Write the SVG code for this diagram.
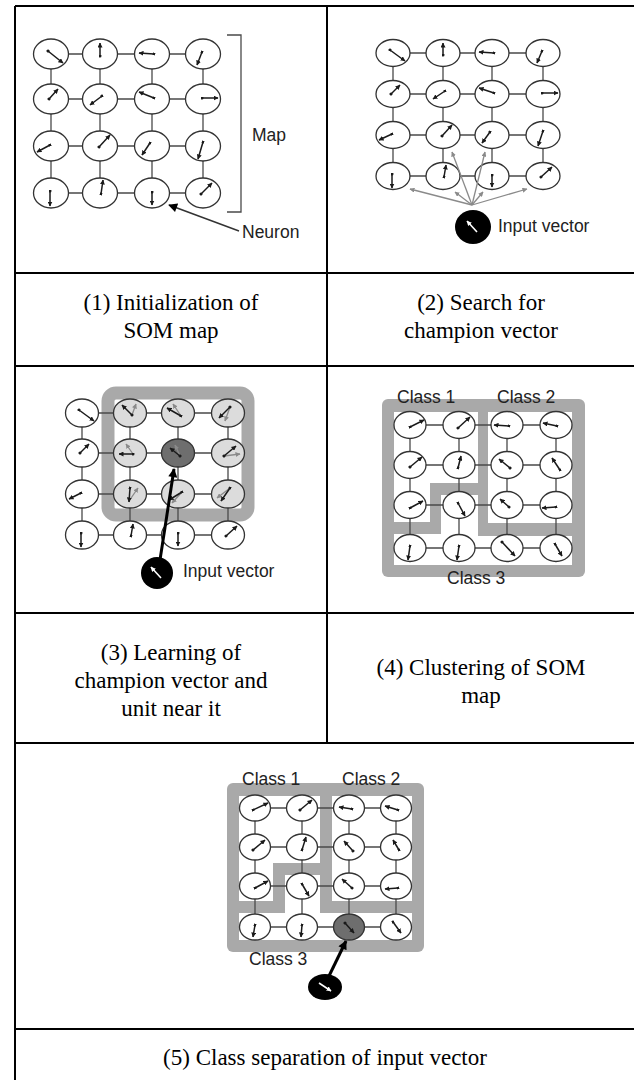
<svg xmlns="http://www.w3.org/2000/svg" width="634" height="1080" viewBox="0 0 634 1080">
<style>
.tb{stroke:#000;stroke-width:2;fill:none}
.cap{font-family:"Liberation Serif","Times New Roman",serif;font-size:23px;fill:#000;text-anchor:middle}
.lbl{font-family:"Liberation Sans",Arial,sans-serif;font-size:17.5px;fill:#222}
.gl{stroke:#4a4a4a;stroke-width:1.3;fill:none}
.n{fill:#fff;stroke:#333;stroke-width:1.3}
.lt{fill:#dcdcdc;stroke:#333;stroke-width:1.3}
.ch{fill:#6e6e6e;stroke:#333;stroke-width:1.3}
.v{stroke:#1a1a1a;stroke-width:1.5;fill:none;marker-end:url(#ah);marker-start:url(#dt)}
.gv{stroke:#8a8a8a;stroke-width:1.3;fill:none;marker-end:url(#gh)}
.wv{stroke:#fff;stroke-width:1.6;fill:none;marker-end:url(#wh)}
.band{fill:#a9a9a9}
.wh{fill:#fff}
.inp{fill:#000}
</style>
<defs>
<marker id="ah" viewBox="0 0 10 10" refX="9" refY="5" markerWidth="5" markerHeight="5" markerUnits="userSpaceOnUse" orient="auto"><path d="M0,0L10,5L0,10z" fill="#1a1a1a"/></marker>
<marker id="dt" viewBox="0 0 10 10" refX="5" refY="5" markerWidth="3" markerHeight="3" markerUnits="userSpaceOnUse" orient="auto"><circle cx="5" cy="5" r="5" fill="#1a1a1a"/></marker>
<marker id="gh" viewBox="0 0 10 10" refX="9" refY="5" markerWidth="5" markerHeight="5" markerUnits="userSpaceOnUse" orient="auto"><path d="M0,0L10,5L0,10z" fill="#8a8a8a"/></marker>
<marker id="wh" viewBox="0 0 10 10" refX="9" refY="5" markerWidth="5" markerHeight="5" markerUnits="userSpaceOnUse" orient="auto"><path d="M0,0L10,5L0,10z" fill="#fff"/></marker>
<marker id="bh" viewBox="0 0 10 10" refX="9" refY="5" markerWidth="10" markerHeight="9" markerUnits="userSpaceOnUse" orient="auto"><path d="M0,0L10,5L0,10z" fill="#000"/></marker>
</defs>
<rect width="634" height="1080" fill="#fff"/>

<g id="table">
<path class="tb" d="M15,6H634M15,6V1080M327,6V743M15,273H634M15,366H634M15,613H634M15,743H634M15,1029H634"/>
</g>

<g id="captions">
<text class="cap" x="171" y="310">(1) Initialization of</text>
<text class="cap" x="171" y="338">SOM map</text>
<text class="cap" x="481" y="310">(2) Search for</text>
<text class="cap" x="481" y="338">champion vector</text>
<text class="cap" x="171" y="660">(3) Learning of</text>
<text class="cap" x="171" y="688">champion vector and</text>
<text class="cap" x="171" y="716">unit near it</text>
<text class="cap" x="481" y="675">(4) Clustering of SOM</text>
<text class="cap" x="481" y="703">map</text>
<text class="cap" x="325" y="1065">(5) Class separation of input vector</text>
</g>

<!-- Panel 1 -->
<g id="p1-connectors">
<path class="gl" d="M51,54H203M51,99H203M51,146H203M51,193H203M51,54V193M100,54V193M152,54V193M203,54V193"/>
<path class="gl" stroke-width="1.5" d="M227,35H241V212H227"/>
<path stroke="#333" stroke-width="1.5" fill="none" marker-end="url(#bh)" d="M239,231L169,205"/>
</g>
<g id="p1-nodes">
<g id="p1n11" transform="translate(51,54)"><ellipse class="n" rx="17.5" ry="15"/><path class="v" d="M-3,-3L12,9"/></g>
<g id="p1n12" transform="translate(100,54)"><ellipse class="n" rx="17.5" ry="15"/><path class="v" d="M0,2L0,-11"/></g>
<g id="p1n13" transform="translate(152,54)"><ellipse class="n" rx="17.5" ry="15"/><path class="v" d="M2,0L-13,-1"/></g>
<g id="p1n14" transform="translate(203,54)"><ellipse class="n" rx="17.5" ry="15"/><path class="v" d="M-1,-2L-6,11"/></g>
<g id="p1n21" transform="translate(51,99)"><ellipse class="n" rx="17.5" ry="15"/><path class="v" d="M-2,0L7,-10"/></g>
<g id="p1n22" transform="translate(100,99)"><ellipse class="n" rx="17.5" ry="15"/><path class="v" d="M2,-3L-10,6"/></g>
<g id="p1n23" transform="translate(152,99)"><ellipse class="n" rx="17.5" ry="15"/><path class="v" d="M2,-1L-13,-7"/></g>
<g id="p1n24" transform="translate(203,99)"><ellipse class="n" rx="17.5" ry="15"/><path class="v" d="M-1,-1L15,-1"/></g>
<g id="p1n31" transform="translate(51,146)"><ellipse class="n" rx="17.5" ry="15"/><path class="v" d="M-1,-1L-14,6"/></g>
<g id="p1n32" transform="translate(100,146)"><ellipse class="n" rx="17.5" ry="15"/><path class="v" d="M-1,1L10,-11"/></g>
<g id="p1n33" transform="translate(152,146)"><ellipse class="n" rx="17.5" ry="15"/><path class="v" d="M-2,-3L-10,9"/></g>
<g id="p1n34" transform="translate(203,146)"><ellipse class="n" rx="17.5" ry="15"/><path class="v" d="M0,-4L-5,13"/></g>
<g id="p1n41" transform="translate(51,193)"><ellipse class="n" rx="17.5" ry="15"/><path class="v" d="M-1,-2L-1,13"/></g>
<g id="p1n42" transform="translate(100,193)"><ellipse class="n" rx="17.5" ry="15"/><path class="v" d="M1,1L3,-13"/></g>
<g id="p1n43" transform="translate(152,193)"><ellipse class="n" rx="17.5" ry="15"/><path class="v" d="M0,-1L0,12"/></g>
<g id="p1n44" transform="translate(203,193)"><ellipse class="n" rx="17.5" ry="15"/><path class="v" d="M-2,1L9,-10"/></g>
<text id="p1-map" class="lbl" x="252" y="141" font-size="20">Map</text>
<text id="p1-neuron" class="lbl" x="242" y="238" font-size="20">Neuron</text>
</g>

<!-- Panel 2 -->
<g id="p2-connectors">
<path class="gl" d="M393,53H543M393,94H543M393,135H543M393,176H543M393,53V176M443,53V176M492,53V176M543,53V176"/>
</g>
<g id="p2-nodes">
<g id="p2n11" transform="translate(393,53)"><ellipse class="n" rx="17" ry="13.5"/><path class="v" d="M-3,-3L12,8"/></g>
<g id="p2n12" transform="translate(443,53)"><ellipse class="n" rx="17" ry="13.5"/><path class="v" d="M0,2L0,-10"/></g>
<g id="p2n13" transform="translate(492,53)"><ellipse class="n" rx="17" ry="13.5"/><path class="v" d="M2,0L-13,-1"/></g>
<g id="p2n14" transform="translate(543,53)"><ellipse class="n" rx="17" ry="13.5"/><path class="v" d="M-1,-2L-6,10"/></g>
<g id="p2n21" transform="translate(393,94)"><ellipse class="n" rx="17" ry="13.5"/><path class="v" d="M-2,0L7,-9"/></g>
<g id="p2n22" transform="translate(443,94)"><ellipse class="n" rx="17" ry="13.5"/><path class="v" d="M2,-3L-10,5"/></g>
<g id="p2n23" transform="translate(492,94)"><ellipse class="n" rx="17" ry="13.5"/><path class="v" d="M2,-1L-13,-6"/></g>
<g id="p2n24" transform="translate(543,94)"><ellipse class="n" rx="17" ry="13.5"/><path class="v" d="M-1,-1L15,-1"/></g>
<g id="p2n31" transform="translate(393,135)"><ellipse class="n" rx="17" ry="13.5"/><path class="v" d="M-1,-1L-14,5"/></g>
<g id="p2n32" transform="translate(443,135)"><ellipse class="n" rx="17" ry="13.5"/><path class="v" d="M-1,1L9,-10"/></g>
<g id="p2n33" transform="translate(492,135)"><ellipse class="n" rx="17" ry="13.5"/><path class="v" d="M-2,-3L-10,8"/></g>
<g id="p2n34" transform="translate(543,135)"><ellipse class="n" rx="17" ry="13.5"/><path class="v" d="M0,-4L-5,11"/></g>
<g id="p2n41" transform="translate(393,176)"><ellipse class="n" rx="17" ry="13.5"/><path class="v" d="M-1,-2L-1,12"/></g>
<g id="p2n42" transform="translate(443,176)"><ellipse class="n" rx="17" ry="13.5"/><path class="v" d="M1,1L3,-11"/></g>
<g id="p2n43" transform="translate(492,176)"><ellipse class="n" rx="17" ry="13.5"/><path class="v" d="M0,-1L0,11"/></g>
<g id="p2n44" transform="translate(543,176)"><ellipse class="n" rx="17" ry="13.5"/><path class="v" d="M-2,1L9,-9"/></g>
</g>
<g id="p2-search-connectors">
<path class="gv" d="M472,205L410,189"/>
<path class="gv" d="M472,205L452,152"/>
<path class="gv" d="M472,205L455,192"/>
<path class="gv" d="M472,205L485,152"/>
<path class="gv" d="M472,205L483,192"/>
<path class="gv" d="M472,205L527,189"/>
</g>
<g id="p2-input">
<ellipse class="inp" cx="473" cy="227" rx="18" ry="17"/>
<path class="wv" d="M477,232L467,221"/>
<text class="lbl" x="498" y="232">Input vector</text>
</g>

<!-- Panel 3 -->
<rect id="p3-neighbourhood" x="108" y="393" width="140" height="122" rx="8" fill="none" stroke="#a9a9a9" stroke-width="13"/>
<g id="p3-connectors">
<path class="gl" d="M82,413H228M82,453H228M82,494H228M82,535H228M82,413V535M130,413V535M178,413V535M228,413V535"/>
</g>
<g id="p3-nodes">
<g id="p3n11" transform="translate(82,413)"><ellipse class="n" rx="16.5" ry="14"/><path class="v" d="M-3,-3L12,8"/></g>
<g id="p3n12" transform="translate(130,413)"><ellipse class="lt" rx="16.5" ry="14"/><path class="gv" d="M2,2L6,-9"/><path class="v" d="M2,2L-8,-8"/></g>
<g id="p3n13" transform="translate(178,413)"><ellipse class="lt" rx="16.5" ry="14"/><path class="gv" d="M3,3L-5,-9"/><path class="v" d="M3,3L-11,-5"/></g>
<g id="p3n14" transform="translate(228,413)"><ellipse class="lt" rx="16.5" ry="14"/><path class="gv" d="M2,-6L-3,8"/><path class="v" d="M2,-6L-9,5"/></g>
<g id="p3n21" transform="translate(82,453)"><ellipse class="n" rx="16.5" ry="14"/><path class="v" d="M-2,0L7,-9"/></g>
<g id="p3n22" transform="translate(130,453)"><ellipse class="lt" rx="16.5" ry="14"/><path class="gv" d="M3,1L-4,-9"/><path class="v" d="M3,1L-11,1"/></g>
<g id="p3n23" transform="translate(178,453)"><ellipse class="ch" rx="16.5" ry="14"/><path class="gv" d="M2,3L-3,-8"/><path class="v" d="M2,3L-8,-5"/></g>
<g id="p3n24" transform="translate(228,453)"><ellipse class="lt" rx="16.5" ry="14"/><path class="gv" d="M-4,3L12,1"/><path class="v" d="M-4,3L8,-7"/></g>
<g id="p3n31" transform="translate(82,494)"><ellipse class="n" rx="16.5" ry="14"/><path class="v" d="M-1,-1L-13,5"/></g>
<g id="p3n32" transform="translate(130,494)"><ellipse class="lt" rx="16.5" ry="14"/><path class="gv" d="M-1,7L8,-6"/><path class="v" d="M0,-6L-1,8"/></g>
<g id="p3n33" transform="translate(178,494)"><ellipse class="lt" rx="16.5" ry="14"/><path class="gv" d="M4,-2L-6,9"/><path class="v" d="M4,-2L-9,6"/></g>
<g id="p3n34" transform="translate(228,494)"><ellipse class="lt" rx="16.5" ry="14"/><path class="gv" d="M2,-6L-11,4"/><path class="v" d="M2,-6L-7,7"/></g>
<g id="p3n41" transform="translate(82,535)"><ellipse class="n" rx="16.5" ry="14"/><path class="v" d="M-1,-2L-1,12"/></g>
<g id="p3n42" transform="translate(130,535)"><ellipse class="n" rx="16.5" ry="14"/><path class="v" d="M1,1L3,-11"/></g>
<g id="p3n43" transform="translate(178,535)"><ellipse class="n" rx="16.5" ry="14"/><path class="v" d="M0,-2L0,11"/></g>
<g id="p3n44" transform="translate(228,535)"><ellipse class="n" rx="16.5" ry="14"/><path class="v" d="M-2,1L9,-9"/></g>
</g>
<g id="p3-learn-connector">
<path stroke="#000" stroke-width="3" fill="none" marker-end="url(#bh)" d="M160,560L174,469"/>
</g>
<g id="p3-input">
<ellipse class="inp" cx="157" cy="573" rx="16" ry="16"/>
<path class="wv" d="M161,578L151,567"/>
<text class="lbl" x="183" y="577">Input vector</text>
</g>

<!-- Panel 4 -->
<g id="p4-classes">
<rect class="band" x="382" y="399" width="203" height="178" rx="6"/>
<path class="wh" d="M394,412H478V483H430V522H394Z"/>
<path class="wh" d="M488,412H572V523H488Z"/>
<path class="wh" d="M441,495H478V536H572V565H394V534H441Z"/>
</g>
<g id="p4-connectors">
<path class="gl" d="M410,425H556M410,465H556M410,505H556M410,548H556M410,425V548M459,425V548M507,425V548M556,425V548"/>
</g>
<g id="p4-nodes">
<g id="p4n11" transform="translate(410,425)"><ellipse class="n" rx="16" ry="13.5"/><path class="v" d="M0,2L14,-5"/></g>
<g id="p4n12" transform="translate(459,425)"><ellipse class="n" rx="16" ry="13.5"/><path class="v" d="M-1,3L11,-8"/></g>
<g id="p4n13" transform="translate(507,425)"><ellipse class="n" rx="16" ry="13.5"/><path class="v" d="M2,1L-13,0"/></g>
<g id="p4n14" transform="translate(556,425)"><ellipse class="n" rx="16" ry="13.5"/><path class="v" d="M1,1L-13,-2"/></g>
<g id="p4n21" transform="translate(410,465)"><ellipse class="n" rx="16" ry="13.5"/><path class="v" d="M0,2L12,-8"/></g>
<g id="p4n22" transform="translate(459,465)"><ellipse class="n" rx="16" ry="13.5"/><path class="v" d="M-1,3L2,-9"/></g>
<g id="p4n23" transform="translate(507,465)"><ellipse class="n" rx="16" ry="13.5"/><path class="v" d="M3,3L-8,-6"/></g>
<g id="p4n24" transform="translate(556,465)"><ellipse class="n" rx="16" ry="13.5"/><path class="v" d="M4,5L-4,-7"/></g>
<g id="p4n31" transform="translate(410,505)"><ellipse class="n" rx="16" ry="13.5"/><path class="v" d="M0,3L13,-4"/></g>
<g id="p4n32" transform="translate(459,505)"><ellipse class="n" rx="16" ry="13.5"/><path class="v" d="M-1,-2L6,11"/></g>
<g id="p4n33" transform="translate(507,505)"><ellipse class="n" rx="16" ry="13.5"/><path class="v" d="M2,2L-7,-6"/></g>
<g id="p4n34" transform="translate(556,505)"><ellipse class="n" rx="16" ry="13.5"/><path class="v" d="M0,2L-14,3"/></g>
<g id="p4n41" transform="translate(410,548)"><ellipse class="n" rx="16" ry="13.5"/><path class="v" d="M0,-2L-2,12"/></g>
<g id="p4n42" transform="translate(459,548)"><ellipse class="n" rx="16" ry="13.5"/><path class="v" d="M0,-2L-2,12"/></g>
<g id="p4n43" transform="translate(507,548)"><ellipse class="n" rx="16" ry="13.5"/><path class="v" d="M-5,-6L8,8"/></g>
<g id="p4n44" transform="translate(556,548)"><ellipse class="n" rx="16" ry="13.5"/><path class="v" d="M-1,-4L6,8"/></g>
<text class="lbl" x="397" y="403" font-size="19">Class 1</text>
<text class="lbl" x="497" y="403" font-size="19">Class 2</text>
<text class="lbl" x="447" y="584" font-size="19">Class 3</text>
</g>

<!-- Panel 5 -->
<g id="p5-classes">
<rect class="band" x="227" y="783" width="197" height="169" rx="6"/>
<path class="wh" d="M239,796H320V863H273V901H239Z"/>
<path class="wh" d="M332,796H412V901H332Z"/>
<path class="wh" d="M285,875H320V913H412V940H239V913H285Z"/>
</g>
<g id="p5-connectors">
<path class="gl" d="M255,808H396M255,847H396M255,886H396M255,927H396M255,808V927M302,808V927M349,808V927M396,808V927"/>
</g>
<g id="p5-nodes">
<g id="p5n11" transform="translate(255,808)"><ellipse class="n" rx="15.5" ry="13"/><path class="v" d="M-2,2L13,-5"/></g>
<g id="p5n12" transform="translate(302,808)"><ellipse class="n" rx="15.5" ry="13"/><path class="v" d="M-2,2L10,-8"/></g>
<g id="p5n13" transform="translate(349,808)"><ellipse class="n" rx="15.5" ry="13"/><path class="v" d="M3,1L-10,-1"/></g>
<g id="p5n14" transform="translate(396,808)"><ellipse class="n" rx="15.5" ry="13"/><path class="v" d="M2,2L-11,-2"/></g>
<g id="p5n21" transform="translate(255,847)"><ellipse class="n" rx="15.5" ry="13"/><path class="v" d="M-2,3L10,-7"/></g>
<g id="p5n22" transform="translate(302,847)"><ellipse class="n" rx="15.5" ry="13"/><path class="v" d="M0,3L4,-10"/></g>
<g id="p5n23" transform="translate(349,847)"><ellipse class="n" rx="15.5" ry="13"/><path class="v" d="M4,4L-5,-6"/></g>
<g id="p5n24" transform="translate(396,847)"><ellipse class="n" rx="15.5" ry="13"/><path class="v" d="M3,3L-3,-7"/></g>
<g id="p5n31" transform="translate(255,886)"><ellipse class="n" rx="15.5" ry="13"/><path class="v" d="M0,2L13,-5"/></g>
<g id="p5n32" transform="translate(302,886)"><ellipse class="n" rx="15.5" ry="13"/><path class="v" d="M0,-2L7,10"/></g>
<g id="p5n33" transform="translate(349,886)"><ellipse class="n" rx="15.5" ry="13"/><path class="v" d="M3,2L-7,-7"/></g>
<g id="p5n34" transform="translate(396,886)"><ellipse class="n" rx="15.5" ry="13"/><path class="v" d="M2,2L-11,3"/></g>
<g id="p5n41" transform="translate(255,927)"><ellipse class="n" rx="15.5" ry="13"/><path class="v" d="M0,-2L-2,10"/></g>
<g id="p5n42" transform="translate(302,927)"><ellipse class="n" rx="15.5" ry="13"/><path class="v" d="M0,-2L-1,10"/></g>
<g id="p5n43" transform="translate(349,927)"><ellipse class="ch" rx="15.5" ry="13"/><path class="v" d="M-4,-4L5,6"/></g>
<g id="p5n44" transform="translate(396,927)"><ellipse class="n" rx="15.5" ry="13"/><path class="v" d="M-3,-5L5,6"/></g>
<text class="lbl" x="242" y="785" font-size="19">Class 1</text>
<text class="lbl" x="342" y="785" font-size="19">Class 2</text>
<text class="lbl" x="249" y="965" font-size="19">Class 3</text>
</g>
<g id="p5-assign-connector">
<path stroke="#000" stroke-width="3" fill="none" marker-end="url(#bh)" d="M329,976L346,941"/>
</g>
<g id="p5-input">
<ellipse class="inp" cx="325" cy="987" rx="17" ry="13"/>
<path class="wv" d="M319,983L331,991"/>
</g>
</svg>
